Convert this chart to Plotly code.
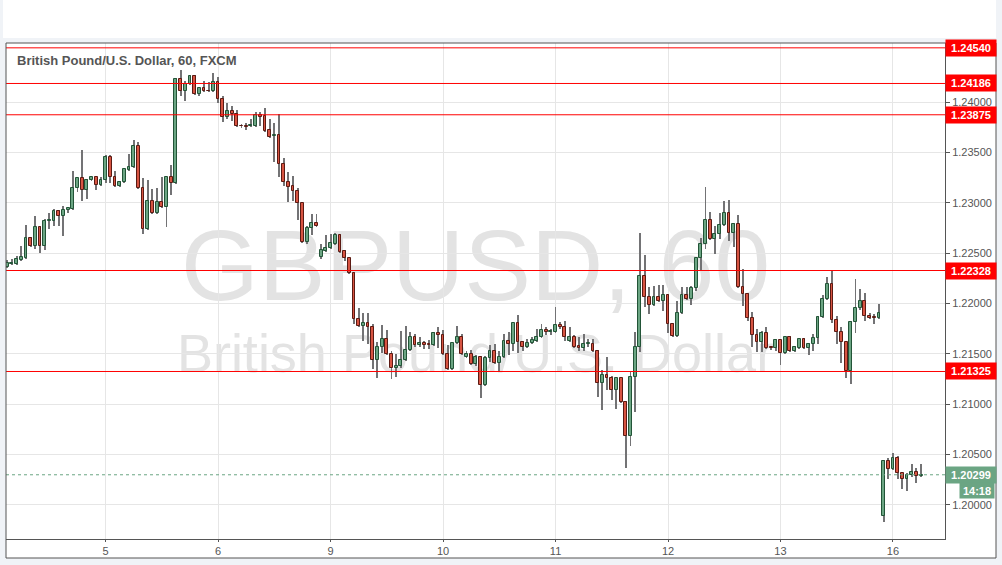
import plotly.graph_objects as go
import pandas as pd

# ---------------- data (GBPUSD, 60 min, FXCM) ----------------
opens = [
    1.2236, 1.2239, 1.2239, 1.2243, 1.2245, 1.2265, 1.2257, 1.2276, 1.2257, 1.2282,
    1.2282, 1.2292, 1.2287, 1.2293, 1.2294, 1.2315, 1.2325, 1.2313, 1.2323, 1.2326,
    1.2318, 1.2323, 1.2346, 1.2326, 1.2317, 1.2321, 1.2333, 1.2336, 1.2356, 1.2315,
    1.2274, 1.2302, 1.2290, 1.2301, 1.2296, 1.2326, 1.2320, 1.2423, 1.2411, 1.2418,
    1.2426, 1.2408, 1.2414, 1.24112, 1.2411, 1.2420, 1.2403, 1.2385, 1.2391, 1.2388,
    1.23765, 1.2376, 1.2376, 1.2376, 1.2387, 1.2386, 1.2372, 1.2366, 1.2367, 1.2339,
    1.2321, 1.2317, 1.2312, 1.2300, 1.2261, 1.2275, 1.2280, 1.2246, 1.2252, 1.2255,
    1.2259, 1.2268, 1.2252, 1.2245, 1.2230, 1.2185, 1.2178, 1.2181, 1.2177, 1.2144,
    1.2157, 1.2165, 1.2150, 1.2136, 1.2138, 1.2144, 1.2154, 1.2167, 1.2159, 1.2161,
    1.21595, 1.2159, 1.2171, 1.2169, 1.2150, 1.2135, 1.2161, 1.2167, 1.2147, 1.2150,
    1.2140, 1.2147, 1.2119, 1.2146, 1.2153, 1.2141, 1.2147, 1.2163, 1.2160, 1.2181,
    1.2162, 1.2157, 1.2161, 1.2163, 1.2167, 1.2174, 1.2172, 1.2172, 1.2179, 1.2177,
    1.2163, 1.2167, 1.2158, 1.2156, 1.2160, 1.2160, 1.2153, 1.2121, 1.2129, 1.2126,
    1.2114, 1.2126, 1.2102, 1.2068, 1.2127, 1.2157, 1.2227, 1.2206, 1.2199, 1.2206,
    1.2203, 1.2208, 1.2180, 1.2168, 1.2191, 1.2208, 1.2205, 1.2215, 1.2245, 1.2259,
    1.2283, 1.2264, 1.2269, 1.2278, 1.2290, 1.2270, 1.2279, 1.2216, 1.2209, 1.2186,
    1.2169, 1.2162, 1.2171, 1.21565, 1.2156, 1.2164, 1.2151, 1.2167, 1.2153, 1.2156,
    1.2165, 1.2156, 1.2160, 1.2166, 1.2187, 1.2205, 1.2219, 1.2184, 1.2172, 1.2162,
    1.2133, 1.2182, 1.2196, 1.2203, 1.2188, 1.21865, 1.2186, 1.1989, 1.2044, 1.2036,
    1.2047, 1.2032, 1.2026, 1.2030, 1.2033, 1.2029,
]
highs = [
    1.2243, 1.2244, 1.2247, 1.2257, 1.2278, 1.2266, 1.2287, 1.2277, 1.2284, 1.2290,
    1.2294, 1.2293, 1.2297, 1.2296, 1.2332, 1.2326, 1.2353, 1.2324, 1.2327, 1.2327,
    1.2326, 1.2348, 1.2348, 1.2332, 1.2322, 1.2335, 1.2349, 1.2362, 1.2360, 1.2325,
    1.2323, 1.2314, 1.2315, 1.2326, 1.2327, 1.2338, 1.2424, 1.2432, 1.2421, 1.2427,
    1.2427, 1.2415, 1.2421, 1.2420, 1.2429, 1.2425, 1.2406, 1.2399, 1.2396, 1.2392,
    1.2378, 1.2379, 1.2383, 1.2390, 1.2390, 1.2394, 1.2383, 1.2379, 1.2388, 1.2345,
    1.2331, 1.2327, 1.2315, 1.2301, 1.2277, 1.2289, 1.2289, 1.2259, 1.2268, 1.2269,
    1.2270, 1.2269, 1.2253, 1.2246, 1.2231, 1.2196, 1.2191, 1.2191, 1.2180, 1.2162,
    1.2179, 1.2174, 1.2153, 1.2150, 1.2173, 1.2178, 1.2172, 1.2170, 1.2167, 1.2163,
    1.2164, 1.2172, 1.2177, 1.2174, 1.2159, 1.2162, 1.2178, 1.2170, 1.2153, 1.2154,
    1.2149, 1.2148, 1.2148, 1.2159, 1.2160, 1.2153, 1.2170, 1.2172, 1.2182, 1.2189,
    1.2163, 1.2165, 1.2167, 1.2175, 1.2180, 1.2177, 1.2175, 1.2197, 1.2182, 1.2183,
    1.2177, 1.2169, 1.2167, 1.2170, 1.2165, 1.2165, 1.2154, 1.2134, 1.2147, 1.2128,
    1.2127, 1.2127, 1.2103, 1.2132, 1.2172, 1.2270, 1.2248, 1.2216, 1.2217, 1.2218,
    1.2218, 1.2209, 1.2181, 1.2203, 1.2216, 1.2216, 1.2217, 1.2246, 1.2265, 1.2316,
    1.2291, 1.2277, 1.2290, 1.2302, 1.2303, 1.2280, 1.2288, 1.2234, 1.2210, 1.2192,
    1.2175, 1.2173, 1.2177, 1.2158, 1.2165, 1.2165, 1.2168, 1.2168, 1.2158, 1.2166,
    1.2166, 1.2161, 1.2170, 1.2188, 1.2208, 1.2226, 1.2233, 1.2188, 1.2177, 1.2163,
    1.2183, 1.2224, 1.2214, 1.2210, 1.2191, 1.2190, 1.2200, 1.2045, 1.2047, 1.2052,
    1.2049, 1.2033, 1.2032, 1.2041, 1.2037, 1.20405,
]
lows = [
    1.2235, 1.2238, 1.2238, 1.2242, 1.2244, 1.2256, 1.2254, 1.2250, 1.2253, 1.2274,
    1.2277, 1.2277, 1.2267, 1.2290, 1.2293, 1.2311, 1.2302, 1.2304, 1.2322, 1.2313,
    1.2317, 1.2320, 1.2320, 1.2316, 1.2316, 1.2320, 1.2332, 1.2335, 1.2314, 1.2269,
    1.2273, 1.2289, 1.2289, 1.2295, 1.2276, 1.2308, 1.2319, 1.2406, 1.2401, 1.2417,
    1.2407, 1.2406, 1.2410, 1.2410, 1.2410, 1.2399, 1.2380, 1.2383, 1.2381, 1.2375,
    1.2374, 1.2372, 1.2375, 1.2375, 1.2376, 1.2370, 1.2364, 1.2341, 1.2326, 1.2317,
    1.2301, 1.2302, 1.2283, 1.2260, 1.2259, 1.2268, 1.2276, 1.2244, 1.2251, 1.2254,
    1.2258, 1.2250, 1.2242, 1.2229, 1.2180, 1.2177, 1.2163, 1.2160, 1.2135, 1.2126,
    1.2151, 1.2149, 1.2125, 1.2127, 1.2136, 1.2143, 1.2153, 1.2157, 1.2157, 1.2155,
    1.2155, 1.2158, 1.2156, 1.2149, 1.2134, 1.2134, 1.2160, 1.2149, 1.2146, 1.2139,
    1.2138, 1.2106, 1.2118, 1.2142, 1.2140, 1.2132, 1.2146, 1.2149, 1.2153, 1.2151,
    1.2153, 1.2156, 1.2160, 1.2162, 1.2166, 1.2169, 1.2169, 1.2171, 1.2175, 1.2163,
    1.2162, 1.2156, 1.2153, 1.2153, 1.2157, 1.2152, 1.2107, 1.2094, 1.2114, 1.2104,
    1.2095, 1.2101, 1.2037, 1.2058, 1.2092, 1.2152, 1.2197, 1.2190, 1.2198, 1.2202,
    1.2193, 1.2171, 1.2167, 1.2167, 1.2190, 1.2204, 1.2199, 1.2212, 1.2232, 1.2254,
    1.2263, 1.2249, 1.2264, 1.2277, 1.2262, 1.2256, 1.2215, 1.2198, 1.2183, 1.2157,
    1.2152, 1.2152, 1.2155, 1.2154, 1.2153, 1.2139, 1.2150, 1.2152, 1.2152, 1.2155,
    1.2155, 1.2149, 1.2153, 1.2160, 1.2186, 1.2204, 1.2181, 1.2160, 1.2141, 1.2126,
    1.2120, 1.2171, 1.2194, 1.2183, 1.2185, 1.2180, 1.2185, 1.1983, 1.2026, 1.2035,
    1.2026, 1.2016, 1.2014, 1.2028, 1.2022, 1.2028,
]
closes = [
    1.2240, 1.2240, 1.2244, 1.2246, 1.2265, 1.2257, 1.2276, 1.2257, 1.2282, 1.22825,
    1.2292, 1.2287, 1.2293, 1.2295, 1.2315, 1.2325, 1.2313, 1.2323, 1.2326, 1.2318,
    1.2323, 1.2346, 1.2326, 1.2317, 1.2321, 1.2334, 1.2336, 1.2356, 1.2315, 1.2274,
    1.2302, 1.2290, 1.2301, 1.2296, 1.2326, 1.2320, 1.2423, 1.2411, 1.2418, 1.2426,
    1.2408, 1.2414, 1.2411, 1.24108, 1.2420, 1.2403, 1.2385, 1.2391, 1.2388, 1.2376,
    1.2376, 1.2375, 1.2377, 1.2387, 1.2385, 1.2371, 1.2365, 1.2367, 1.2339, 1.2321,
    1.2316, 1.2312, 1.2300, 1.2261, 1.2275, 1.2280, 1.2277, 1.2253, 1.2255, 1.2260,
    1.2268, 1.2251, 1.2245, 1.2230, 1.2185, 1.2178, 1.2181, 1.2177, 1.2144, 1.2157,
    1.2165, 1.2150, 1.2136, 1.2138, 1.2144, 1.2154, 1.2167, 1.2159, 1.2161, 1.2159,
    1.2159, 1.2171, 1.2169, 1.2150, 1.2135, 1.2161, 1.2167, 1.2150, 1.2150, 1.2140,
    1.2147, 1.2119, 1.2146, 1.2153, 1.2141, 1.2147, 1.2163, 1.2160, 1.2181, 1.2162,
    1.2157, 1.2161, 1.2164, 1.2167, 1.2174, 1.2172, 1.2173, 1.2179, 1.2177, 1.2167,
    1.2167, 1.2157, 1.2156, 1.2160, 1.21605, 1.2153, 1.2121, 1.2129, 1.2126, 1.2114,
    1.2126, 1.2102, 1.2068, 1.2127, 1.2157, 1.2227, 1.2206, 1.2199, 1.2206, 1.2203,
    1.2208, 1.2180, 1.2168, 1.2191, 1.2208, 1.2205, 1.2215, 1.2245, 1.2259, 1.2283,
    1.2264, 1.2269, 1.2278, 1.2290, 1.2270, 1.2279, 1.2216, 1.2209, 1.2186, 1.2169,
    1.2162, 1.2171, 1.2156, 1.2156, 1.2164, 1.2151, 1.2167, 1.2153, 1.2157, 1.2165,
    1.2156, 1.2160, 1.2166, 1.2187, 1.2205, 1.2219, 1.2184, 1.2172, 1.2162, 1.2133,
    1.2182, 1.2196, 1.2203, 1.2188, 1.2186, 1.2186, 1.2191, 1.2044, 1.2036, 1.2047,
    1.2032, 1.2026, 1.2030, 1.2033, 1.2029, 1.20299,
]

levels = [1.24540, 1.24186, 1.23875, 1.22328, 1.21325]
last_price = 1.20299
countdown = "14:18"
y_tick_values = [1.20000, 1.20500, 1.21000, 1.21500, 1.22000, 1.22500, 1.23000, 1.23500, 1.24000]
title_text = "British Pound/U.S. Dollar, 60, FXCM"
wm_symbol = "GBPUSD, 60"
wm_desc = "British Pound/U.S. Dollar"

# hourly session timestamps (forex week: Sun 22:00 -> Fri 21:00)
all_hours = pd.date_range("2017-01-04 03:00", "2017-01-16 06:00", freq="h")
times = [t for t in all_hours
         if not ((t.weekday() == 4 and t.hour >= 22) or t.weekday() == 5
                 or (t.weekday() == 6 and t.hour < 22))]
assert len(times) == len(opens) == len(highs) == len(lows) == len(closes)
idx = list(range(len(times)))
day_ticks = [i for i, t in enumerate(times) if t.hour == 0]
day_text = [str(times[i].day) for i in day_ticks]

# ---------------- styling ----------------
W, H = 1002, 565
ML, MR, MT, MB = 6, 57, 43, 26
PW, PH = W - ML - MR, H - MT - MB


def px(x):
    return (x - ML) / PW


def py(y):
    return (H - MB - y) / PH


UP_FILL, UP_LINE = "#6ba583", "#225437"
DN_FILL, DN_LINE = "#d75442", "#5b1a13"
WICK = "#737375"
TXT = "#555555"
GRID = "#e6e6e6"
FONT = "Liberation Sans, Arial, sans-serif"

up = [c >= o for o, c in zip(opens, closes)]
body_base = [min(o, c) for o, c in zip(opens, closes)]
body_h = [max(abs(c - o), 0.00003) for o, c in zip(opens, closes)]
wick_h = [h - l for h, l in zip(highs, lows)]

fig = go.Figure()
fig.add_trace(go.Bar(
    x=idx, base=lows, y=wick_h, width=0.2,
    marker=dict(color=WICK, line=dict(width=0)),
    hoverinfo="skip", showlegend=False,
))
fig.add_trace(go.Bar(
    x=idx, base=body_base, y=body_h, width=0.6,
    marker=dict(color=[UP_FILL if u else DN_FILL for u in up],
                line=dict(color=[UP_LINE if u else DN_LINE for u in up], width=1)),
    customdata=list(zip(opens, highs, lows, closes)),
    hovertemplate="O %{customdata[0]}<br>H %{customdata[1]}<br>L %{customdata[2]}<br>C %{customdata[3]}<extra></extra>",
    showlegend=False,
))

shapes = [
    # top white strip
    dict(type="rect", xref="paper", yref="paper", x0=px(3), x1=px(996), y0=py(38), y1=py(0),
         fillcolor="white", line=dict(width=0), layer="below"),
    # chart frame background
    dict(type="rect", xref="paper", yref="paper", x0=px(6), x1=px(996), y0=py(558), y1=py(43),
         fillcolor="white", line=dict(width=0), layer="below"),
    # watermark texts
    dict(type="rect", xref="paper", yref="paper", x0=0, x1=1, y0=py(308), y1=py(203),
         fillcolor="rgba(0,0,0,0)", line=dict(width=0), layer="below",
         label=dict(text=wm_symbol, textposition="middle center",
                    font=dict(size=100, color="#e3e3e3", family=FONT))),
    dict(type="rect", xref="paper", yref="paper", x0=0, x1=1, y0=py(375), y1=py(320),
         fillcolor="rgba(0,0,0,0)", line=dict(width=0), layer="below",
         label=dict(text=wm_desc, textposition="middle center",
                    font=dict(size=54, color="#e3e3e3", family=FONT))),
]
for lv in levels:
    shapes.append(dict(type="line", xref="paper", yref="y", x0=0, x1=1, y0=lv, y1=lv,
                       line=dict(color="#ff0000", width=1), layer="above"))
shapes.append(dict(type="line", xref="paper", yref="y", x0=0, x1=1, y0=last_price, y1=last_price,
                   line=dict(color=UP_FILL, width=1, dash="dot"), layer="above"))
# outer frame border
shapes.append(dict(type="rect", xref="paper", yref="paper", x0=px(6), x1=px(996), y0=py(558), y1=py(43),
                   fillcolor="rgba(0,0,0,0)", line=dict(color=TXT, width=1), layer="above"))

annotations = [
    dict(x=px(15), y=py(61), xref="paper", yref="paper", xanchor="left", yanchor="middle",
         text="<b>" + title_text + "</b>", showarrow=False,
         font=dict(size=13, color=TXT, family=FONT)),
]
for lv in levels:
    annotations.append(dict(x=1, y=lv, xref="paper", yref="y", xanchor="left", yanchor="middle",
                            text="<b>%.5f</b>" % lv, showarrow=False, bgcolor="#ff0000",
                            width=46, height=12, borderpad=2, align="center",
                            font=dict(size=11, color="white", family=FONT)))
annotations.append(dict(x=1, y=last_price, xref="paper", yref="y", xanchor="left", yanchor="middle",
                        text="<b>%.5f</b>" % last_price, showarrow=False, bgcolor=UP_FILL,
                        width=46, height=12, borderpad=2, align="center",
                        font=dict(size=11, color="white", family=FONT)))
annotations.append(dict(x=px(995), y=last_price, xref="paper", yref="y", xanchor="right", yanchor="middle",
                        yshift=-16, text="<b>" + countdown + "</b>", showarrow=False, bgcolor=UP_FILL,
                        width=30, height=11, borderpad=2, align="center",
                        font=dict(size=11, color="white", family=FONT)))

fig.update_layout(
    width=W, height=H,
    margin=dict(l=ML, r=MR, t=MT, b=MB, pad=0),
    paper_bgcolor="#f0f3f7", plot_bgcolor="white",
    barmode="overlay", bargap=0,
    shapes=shapes, annotations=annotations,
    font=dict(family=FONT, color=TXT),
    xaxis=dict(range=[-0.25, 200.1], tickmode="array", tickvals=day_ticks, ticktext=day_text,
               showgrid=True, gridcolor=GRID, gridwidth=1, zeroline=False,
               showline=True, linecolor=TXT, linewidth=1,
               ticks="outside", ticklen=2, tickcolor=TXT,
               tickfont=dict(size=11, color=TXT, family=FONT), fixedrange=True),
    yaxis=dict(range=[1.19661, 1.24588], side="right", tickmode="array", tickvals=y_tick_values,
               tickformat=".5f", showgrid=True, gridcolor=GRID, gridwidth=1, zeroline=False,
               showline=True, linecolor=TXT, linewidth=1,
               ticks="outside", ticklen=4, tickcolor=TXT,
               tickfont=dict(size=11, color=TXT, family=FONT), fixedrange=True),
    hovermode="closest",
)

fig.write_html("out.html", config={"displayModeBar": False},
               post_script="document.body.style.margin='0';")
